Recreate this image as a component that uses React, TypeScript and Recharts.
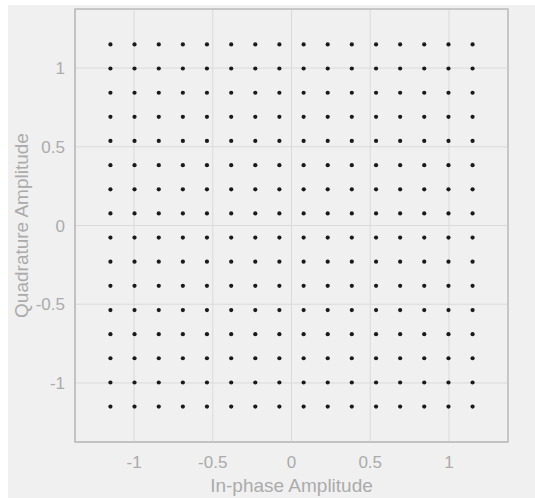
import React from 'react';
import { ScatterChart, Scatter, XAxis, YAxis, CartesianGrid, ReferenceArea, Label } from 'recharts';

const I_LEVELS = [-1.150, -0.997, -0.843, -0.690, -0.537, -0.383, -0.230, -0.077, 0.077, 0.230, 0.383, 0.537, 0.690, 0.843, 0.997, 1.150];
const Q_LEVELS = [-1.150, -0.997, -0.843, -0.690, -0.537, -0.383, -0.230, -0.077, 0.077, 0.230, 0.383, 0.537, 0.690, 0.843, 0.997, 1.150];
const X_TICKS = [-1, -0.5, 0, 0.5, 1];
const Y_TICKS = [-1, -0.5, 0, 0.5, 1];
const DOMAIN: [number, number] = [-1.375, 1.375];

const points = I_LEVELS.flatMap((i) => Q_LEVELS.map((q) => ({ i, q })));

const Dot = (props: any) => <circle cx={props.cx} cy={props.cy} r={2.1} fill="#1a1a1a" />;

const TEXT = '#ababab';
const FONT = 'Liberation Sans, Arial, sans-serif';

export default function App() {
  return (
    <div style={{ position: 'absolute', left: 8, top: 5, width: 527, height: 493, background: '#f0f0f0' }}>
      <ScatterChart width={527} height={493} margin={{ top: 4, right: 27, bottom: 0, left: 0 }}>
        <CartesianGrid stroke="#dadada" strokeWidth={1} />
        <XAxis
          type="number"
          dataKey="i"
          domain={DOMAIN}
          ticks={X_TICKS}
          allowDataOverflow
          height={56}
          stroke="#bdbdbd"
          tickLine={false}
          tickSize={0}
          tickMargin={14}
          tick={{ fill: TEXT, fontSize: 17, fontFamily: FONT }}
        >
          <Label value="In-phase Amplitude" position="insideBottom" offset={6} style={{ fill: TEXT, fontSize: 19, fontFamily: FONT }} />
        </XAxis>
        <YAxis
          type="number"
          dataKey="q"
          domain={DOMAIN}
          ticks={Y_TICKS}
          allowDataOverflow
          width={67}
          stroke="#bdbdbd"
          tickLine={false}
          tickSize={0}
          tickMargin={10}
          tick={{ fill: TEXT, fontSize: 17, fontFamily: FONT }}
        >
          <Label value="Quadrature Amplitude" angle={-90} position="insideLeft" offset={13} style={{ fill: TEXT, fontSize: 19, fontFamily: FONT, textAnchor: 'middle' }} />
        </YAxis>
        <ReferenceArea x1={DOMAIN[0]} x2={DOMAIN[1]} y1={DOMAIN[0]} y2={DOMAIN[1]} fill="none" stroke="#bdbdbd" strokeWidth={1.5} ifOverflow="extendDomain" />
        <Scatter data={points} shape={Dot} isAnimationActive={false} />
      </ScatterChart>
    </div>
  );
}
